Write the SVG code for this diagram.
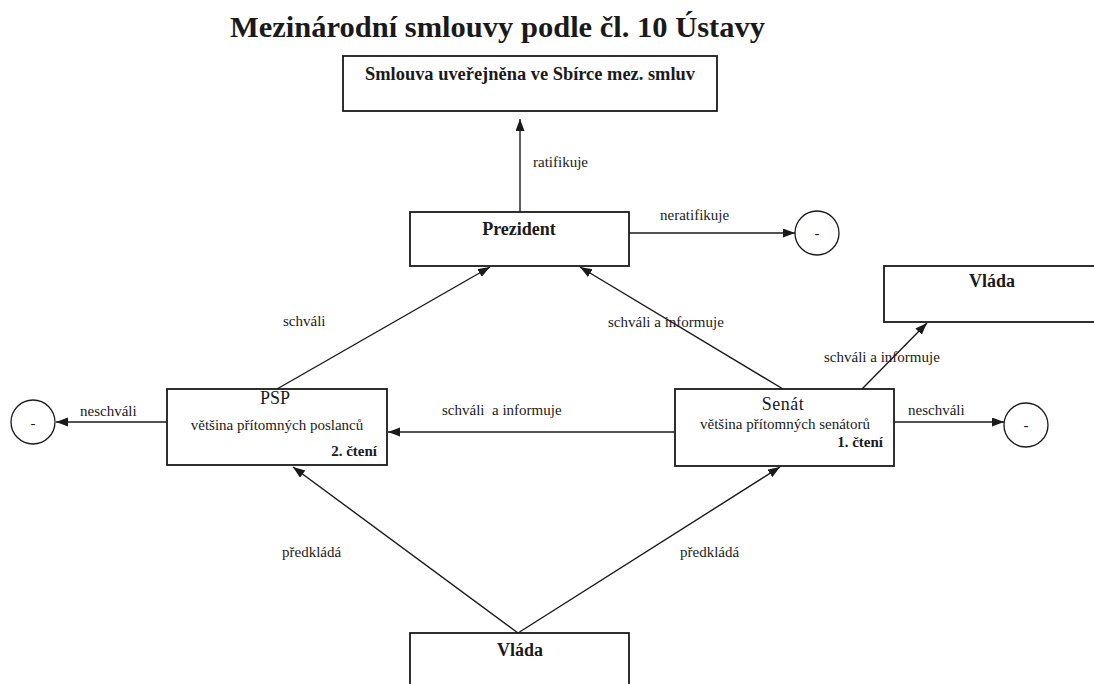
<svg xmlns="http://www.w3.org/2000/svg" width="1094" height="684" viewBox="0 0 1094 684">
  <style>
    .box { fill: #ffffff; stroke: #1a1a1a; stroke-width: 1.8; }
    .circ { fill: #ffffff; stroke: #1a1a1a; stroke-width: 1.3; }
    .edge { fill: none; stroke: #1a1a1a; stroke-width: 1.4; marker-end: url(#arr); }
    text { font-family: "Liberation Serif", "Times New Roman", serif; fill: #1a1a1a; }
    .lbl { font-size: 15px; }
    .title { font-size: 30px; font-weight: bold; }
    .bold { font-weight: bold; }
    .big { font-size: 18px; }
    .sub { font-size: 15px; }
  </style>
  <defs>
    <marker id="arr" markerUnits="userSpaceOnUse" markerWidth="13" markerHeight="10" refX="12" refY="4.5" orient="auto">
      <path d="M0,0 L12,4.5 L0,9 z" fill="#1a1a1a"/>
    </marker>
  </defs>
  <rect width="1094" height="684" fill="#ffffff"/>

  <text class="title" x="230" y="37" textLength="535" lengthAdjust="spacingAndGlyphs">Mezinárodní smlouvy podle čl. 10 Ústavy</text>

  <g id="connectors">
    <line class="edge" x1="520" y1="212" x2="520" y2="119"/>
    <line class="edge" x1="629" y1="233" x2="795" y2="233"/>
    <line class="edge" x1="277" y1="389" x2="490" y2="267"/>
    <line class="edge" x1="783" y1="389" x2="580" y2="267"/>
    <line class="edge" x1="862" y1="389" x2="927" y2="323"/>
    <line class="edge" x1="167" y1="422" x2="56" y2="422"/>
    <line class="edge" x1="894" y1="422" x2="1004" y2="422"/>
    <line class="edge" x1="675" y1="432" x2="388" y2="432"/>
    <line class="edge" x1="518" y1="633" x2="293" y2="467"/>
    <line class="edge" x1="518" y1="633" x2="780" y2="467"/>
    <text class="lbl" x="533" y="167">ratifikuje</text>
    <text class="lbl" x="660" y="220">neratifikuje</text>
    <text class="lbl" x="283" y="326">schváli</text>
    <text class="lbl" x="608" y="327">schváli a informuje</text>
    <text class="lbl" x="824" y="362">schváli a informuje</text>
    <text class="lbl" x="80" y="416">neschváli</text>
    <text class="lbl" x="908" y="415">neschváli</text>
    <text class="lbl" x="442" y="415" xml:space="preserve">schváli  a informuje</text>
    <text class="lbl" x="282" y="557">předkládá</text>
    <text class="lbl" x="680" y="557">předkládá</text>
  </g>

  <g id="sbirka">
    <rect class="box" x="343" y="56" width="374" height="55"/>
    <text class="bold big" x="365" y="80" textLength="330" lengthAdjust="spacingAndGlyphs">Smlouva uveřejněna ve Sbírce mez. smluv</text>
  </g>

  <g id="prezident">
    <rect class="box" x="410" y="212" width="219" height="54"/>
    <text class="bold big" x="519" y="235" text-anchor="middle">Prezident</text>
  </g>

  <g id="minus-prezident">
    <circle class="circ" cx="817" cy="233" r="22"/>
    <text class="lbl" x="817" y="238" text-anchor="middle">-</text>
  </g>

  <g id="vlada-right">
    <rect class="box" x="884" y="266" width="220" height="56"/>
    <text class="bold big" x="992" y="287" text-anchor="middle">Vláda</text>
  </g>

  <g id="psp">
    <rect class="box" x="167" y="389" width="220" height="76"/>
    <text class="big" x="275" y="404" text-anchor="middle">PSP</text>
    <text class="sub" x="277" y="430" text-anchor="middle">většina přítomných poslanců</text>
    <text class="sub bold" x="377" y="456" text-anchor="end">2. čtení</text>
  </g>

  <g id="minus-psp">
    <circle class="circ" cx="33" cy="422" r="22"/>
    <text class="lbl" x="33" y="428" text-anchor="middle">-</text>
  </g>

  <g id="senat">
    <rect class="box" x="675" y="389" width="219" height="77"/>
    <text class="big" x="783" y="410" text-anchor="middle" letter-spacing="0.5">Senát</text>
    <text class="sub" x="785" y="429" text-anchor="middle">většina přítomných senátorů</text>
    <text class="sub bold" x="883" y="447" text-anchor="end">1. čtení</text>
  </g>

  <g id="minus-senat">
    <circle class="circ" cx="1026" cy="425" r="22"/>
    <text class="lbl" x="1026" y="430" text-anchor="middle">-</text>
  </g>

  <g id="vlada-bottom">
    <rect class="box" x="410" y="633" width="219" height="60"/>
    <text class="bold big" x="520" y="656" text-anchor="middle">Vláda</text>
  </g>
</svg>
